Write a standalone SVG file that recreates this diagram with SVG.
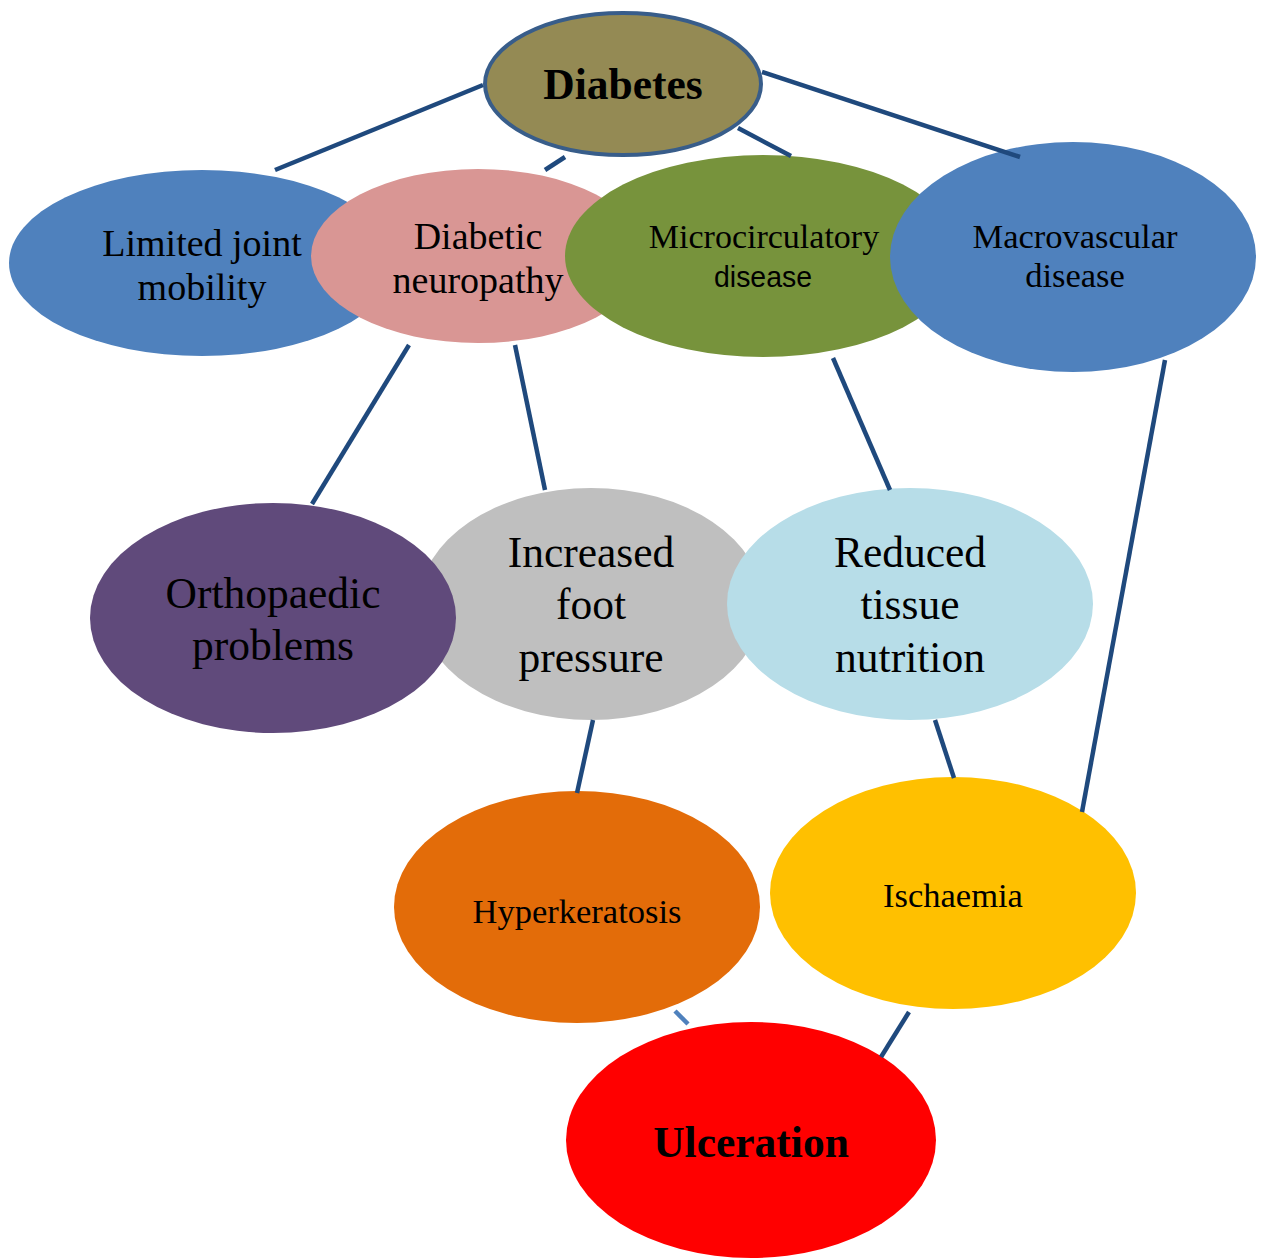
<svg xmlns="http://www.w3.org/2000/svg" width="1262" height="1258" viewBox="0 0 1262 1258">
<style>
.c{stroke:#1f497d;stroke-width:4.5;fill:none}
.t{font-family:"Liberation Serif","Times New Roman",serif;fill:#000;text-anchor:middle}
.b{font-weight:bold}
</style>
<rect width="1262" height="1258" fill="#fff"/>
<g id="limited">
<ellipse cx="202" cy="263" rx="193" ry="93" fill="#4f81bd"/>
<text class="t" x="202" y="256" font-size="38">Limited joint</text>
<text class="t" x="202" y="300" font-size="38">mobility</text>
</g>
<g id="neuropathy">
<ellipse cx="478" cy="256" rx="167" ry="87" fill="#d99694"/>
<text class="t" x="478" y="249" font-size="38">Diabetic</text>
<text class="t" x="478" y="293" font-size="38">neuropathy</text>
</g>
<g id="micro">
<ellipse cx="763" cy="256" rx="198" ry="101" fill="#77933c"/>
<text class="t" x="764" y="248" font-size="34">Microcirculatory</text>
<text x="763" y="287" font-size="30" font-family="Liberation Sans, Arial, sans-serif" text-anchor="middle" textLength="98" lengthAdjust="spacingAndGlyphs">disease</text>
</g>
<g id="macro">
<ellipse cx="1073" cy="257" rx="183" ry="115" fill="#4f81bd"/>
<text class="t" x="1075" y="248" font-size="34.5">Macrovascular</text>
<text class="t" x="1075" y="287" font-size="34.5">disease</text>
</g>
<g id="diabetes">
<ellipse cx="623" cy="84" rx="138" ry="71" fill="#948a54" stroke="#385d8a" stroke-width="4"/>
<text class="t b" x="623" y="99" font-size="43.5">Diabetes</text>
</g>
<g id="increased">
<ellipse cx="591" cy="604" rx="172" ry="116" fill="#bfbfbf"/>
<text class="t" x="591" y="567" font-size="43.5">Increased</text>
<text class="t" x="591" y="619" font-size="43.5">foot</text>
<text class="t" x="591" y="672" font-size="43.5">pressure</text>
</g>
<g id="orthopaedic">
<ellipse cx="273" cy="618" rx="183" ry="115" fill="#604a7b"/>
<text class="t" x="273" y="608" font-size="43.5">Orthopaedic</text>
<text class="t" x="273" y="660" font-size="43.5">problems</text>
</g>
<g id="reduced">
<ellipse cx="910" cy="604" rx="183" ry="116" fill="#b7dde8"/>
<text class="t" x="910" y="567" font-size="43.5">Reduced</text>
<text class="t" x="910" y="619" font-size="43.5">tissue</text>
<text class="t" x="910" y="672" font-size="43.5">nutrition</text>
</g>
<g id="hyperkeratosis">
<ellipse cx="577" cy="907" rx="183" ry="116" fill="#e36c09"/>
<text class="t" x="577" y="923" font-size="34.5">Hyperkeratosis</text>
</g>
<g id="ischaemia">
<ellipse cx="953" cy="893" rx="183" ry="116" fill="#ffc000"/>
<text class="t" x="953" y="907" font-size="34.5">Ischaemia</text>
</g>
<g id="ulceration">
<ellipse cx="751" cy="1140" rx="185" ry="118" fill="#ff0000"/>
<text class="t b" x="751" y="1157" font-size="43.5">Ulceration</text>
</g>
<g id="connectors">
<line class="c" x1="483" y1="85" x2="275" y2="170"/>
<line class="c" x1="565" y1="157" x2="545" y2="170"/>
<line class="c" x1="738" y1="128" x2="791" y2="156"/>
<line class="c" x1="762" y1="72" x2="1020" y2="157"/>
<line class="c" x1="409" y1="345" x2="312" y2="504"/>
<line class="c" x1="515" y1="345" x2="545" y2="490"/>
<line class="c" x1="833" y1="358" x2="890" y2="490"/>
<line class="c" x1="1165" y1="360" x2="1082" y2="812"/>
<line class="c" x1="593" y1="720" x2="577" y2="793"/>
<line class="c" x1="935" y1="720" x2="954" y2="778"/>
<line class="c" x1="675" y1="1011" x2="688" y2="1024" style="stroke:#4f81bd"/>
<line class="c" x1="909" y1="1012" x2="881" y2="1057"/>
</g>
</svg>
